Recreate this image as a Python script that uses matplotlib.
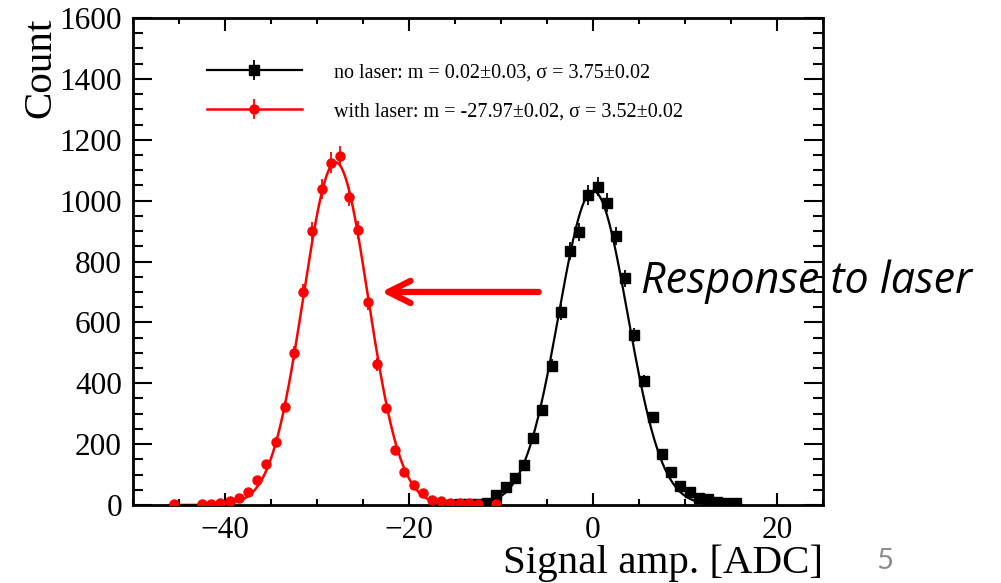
import numpy as np
import matplotlib
matplotlib.use("Agg")
import matplotlib.pyplot as plt
import matplotlib.ticker as ticker
from matplotlib.legend_handler import HandlerTuple

plt.rcParams['font.family'] = ['Liberation Serif', 'DejaVu Serif']

#--data (bin centre, counts)
nolaser_x = np.arange(-15.5, 16.0, 1.0)
nolaser_y = [1, 2, 2, 4, 8, 33, 60, 88, 130, 220, 312, 457, 634, 835, 898, 1018,
             1046, 993, 884, 745, 558, 408, 290, 168, 109, 62, 44, 24, 20, 11, 8, 8]

laser_x = [-45.5, -42.5, -41.5, -40.5, -39.5, -38.5, -37.5, -36.5, -35.5, -34.5,
           -33.5, -32.5, -31.5, -30.5, -29.5, -28.5, -27.5, -26.5, -25.5, -24.5,
           -23.5, -22.5, -21.5, -20.5, -19.5, -18.5, -17.5, -16.5, -15.5, -14.5,
           -13.5, -12.5, -10.5]
laser_y = [3, 2, 3, 5, 13, 23, 43, 82, 135, 208, 323, 500, 700, 901, 1038, 1125,
           1146, 1013, 903, 668, 463, 320, 181, 110, 66, 39, 16, 13, 8, 8, 5, 4, 3]

#--gaussian fit results (amplitude, mean, sigma)
fit_nolaser = (1032, 0.02, 3.75)
fit_laser = (1126, -27.97, 3.52)

lab_nolaser = "no laser: m = 0.02\u00b10.03, \u03c3 = 3.75\u00b10.02"
lab_laser = "with laser: m = -27.97\u00b10.02, \u03c3 = 3.52\u00b10.02"


def gaus(x, pars):
    a, m, s = pars
    return a * np.exp(-0.5 * ((x - m) / s) ** 2)


fig = plt.figure(figsize=(10.01, 5.83), dpi=100)
ax = fig.add_axes([0.1329, 0.1338, 0.6893, 0.8353])

# fit curves
xs_b = np.linspace(min(nolaser_x) - 0.5, max(nolaser_x) + 0.5, 400)
xs_r = np.linspace(min(laser_x) - 0.5, max(laser_x) + 0.5, 400)
ln_b, = ax.plot(xs_b, gaus(xs_b, fit_nolaser), color="black", lw=1.6, zorder=2)
ln_r, = ax.plot(xs_r, gaus(xs_r, fit_laser), color="red", lw=1.8, zorder=2)

# data points with sqrt(N) errors
eb_b = ax.errorbar(nolaser_x, nolaser_y, yerr=np.sqrt(nolaser_y), fmt="s", color="black",
                   ms=6.5, elinewidth=1.3, capsize=0, zorder=3)
eb_r = ax.errorbar(laser_x, laser_y, yerr=np.sqrt(laser_y), fmt="o", color="red",
                   ms=6.5, elinewidth=1.3, capsize=0, zorder=3)

ax.set_xlim(-50, 25)
ax.set_ylim(0, 1600)

ax.xaxis.set_major_locator(ticker.MultipleLocator(20))
ax.xaxis.set_minor_locator(ticker.MultipleLocator(5))
ax.yaxis.set_major_locator(ticker.MultipleLocator(200))
ax.yaxis.set_minor_locator(ticker.MultipleLocator(50))
ax.tick_params(which="both", direction="in", top=True, right=True, width=1.5, labelsize=22.5)
ax.tick_params(axis="x", which="major", length=9, pad=8)
ax.tick_params(axis="x", which="minor", length=4.5)
ax.tick_params(axis="y", which="major", length=14, pad=8)
ax.tick_params(axis="y", which="minor", length=7)
for sp in ax.spines.values():
    sp.set_linewidth(2)

ax.set_ylabel("Count", fontsize=29.5, loc="top")
ax.yaxis.set_label_coords(-0.107, 1.0)
ax.set_xlabel("Signal amp. [ADC]", fontsize=29.5, loc="right")
ax.xaxis.set_label_coords(1.0, -0.081)

leg = ax.legend([(ln_b, eb_b), (ln_r, eb_r)], [lab_nolaser, lab_laser],
                handler_map={tuple: HandlerTuple(ndivide=1)},
                loc="upper left", bbox_to_anchor=(0.107, 0.9076), frameon=False,
                fontsize=14.5, handlelength=4.7, handletextpad=1.6,
                labelspacing=1.0, borderaxespad=0, borderpad=0)

# annotation
ax.annotate("", xy=(-23.0, 700), xytext=(-5.9, 700),
            arrowprops=dict(arrowstyle="->,head_length=1.6,head_width=0.8",
                            lw=4.5, color="red", shrinkA=0, shrinkB=0,
                            capstyle="round", joinstyle="round"))
ax.text(5.2, 697, "Response to laser", fontsize=31, style="italic",
        family=["Open Sans", "DejaVu Sans"], va="baseline", ha="left", clip_on=False)

fig.text(0.884, 0.038, "5", fontsize=21, color="#8c8c8c",
         family=["Lato", "DejaVu Sans"], ha="center", va="center")

plt.savefig("out.png", dpi=100)
